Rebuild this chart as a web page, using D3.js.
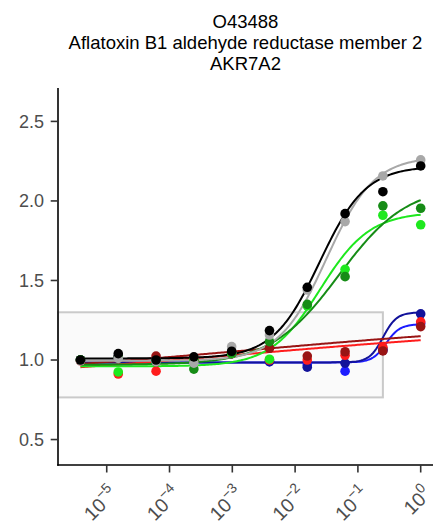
<!DOCTYPE html>
<html><head><meta charset="utf-8">
<script src="https://cdn.jsdelivr.net/npm/d3@7"></script>
<style>body{margin:0;background:#fff}svg{display:block}text{font-family:"Liberation Sans",Arial,sans-serif}</style>
</head><body>
<script>
const titleLines = ["O43488", "Aflatoxin B1 aldehyde reductase member 2", "AKR7A2"];
const concentrations = [3.814697265625e-6, 1.52587890625e-5, 6.103515625e-5, 0.000244140625, 0.0009765625, 0.00390625, 0.015625, 0.0625, 0.25, 1];
const seriesNames = ["blue", "darkblue", "red", "darkred", "lime", "darkgreen", "gray", "black"];
const seriesColors = ["#1c1cff", "#12129a", "#ff1c1c", "#991414", "#1ee81e", "#168c16", "#a8a8a8", "#000000"];
const blueValues     = [1.0, 1.02, 0.99, 1.0, 1.04, 0.99, 0.97, 0.93, 1.06, 1.23];
const darkblueValues = [1.0, 1.02, 1.0, 1.0, 1.04, 0.99, 0.955, 0.98, 1.07, 1.29];
const redValues      = [0.995, 0.912, 0.93, 1.0, 1.04, 1.00, 1.00, 1.03, 1.08, 1.24];
const darkredValues  = [1.0, 1.02, 1.025, 1.0, 1.04, 1.074, 1.025, 1.052, 1.057, 1.21];
const limeValues     = [1.0, 0.925, 0.995, 1.0, 1.04, 1.005, 1.34, 1.57, 1.91, 1.85];
const darkgreenValues= [1.0, 1.02, 0.99, 0.943, 1.045, 1.115, 1.35, 1.524, 1.969, 1.954];
const grayValues     = [0.995, 1.01, 0.99, 0.98, 1.084, 1.157, 1.44, 1.87, 2.157, 2.258];
const blackValues    = [1.0, 1.04, 1.0, 1.02, 1.055, 1.185, 1.457, 1.92, 2.058, 2.22];
// fitted log-logistic curve parameters: bottom, top, log10 EC50, hill
const fitBottom = [0.985, 0.985, 0.84, 0.863, 0.96, 0.97, 0.995, 1.01];
const fitTop    = [1.225, 1.30, 1.24, 1.263, 1.93, 2.10, 2.28, 2.22];
const fitLogEC50= [-0.55, -0.6, -2.7, -2.7, -1.6, -1.3, -1.5, -1.61];
const fitHill   = [4, 4, 0.145, 0.15, 1.1, 0.8, 1.15, 1.18];
const yTicks = [0.5, 1.0, 1.5, 2.0, 2.5];
const xTickExponents = [-5, -4, -3, -2, -1, 0];
const yDomain = [0.34, 2.71];
const xDomainLog = [-5.776, 0.196];
const boxY = [0.765, 1.30];
const boxXMax = 0.25;

const valuesBySeries = [blueValues, darkblueValues, redValues, darkredValues, limeValues, darkgreenValues, grayValues, blackValues];

const W = 433, H = 526;
const svg = d3.select("body").append("svg").attr("width", W).attr("height", H);
const x = d3.scaleLog().domain(xDomainLog.map(e => Math.pow(10, e))).range([58, 433]);
const y = d3.scaleLinear().domain(yDomain).range([465, 88]);

// title
svg.append("g").selectAll("text").data(titleLines).join("text")
  .attr("x", 245.5).attr("y", (d, i) => 28 + i * 21)
  .attr("text-anchor", "middle").attr("font-size", 18.5).attr("fill", "#000").text(d => d);

// box
svg.append("rect")
  .attr("x", 58).attr("y", y(boxY[1]))
  .attr("width", x(boxXMax) - 58).attr("height", y(boxY[0]) - y(boxY[1]))
  .attr("fill", "#fafafa").attr("stroke", "#cacaca").attr("stroke-width", 2);

// curves
const ll4 = (i, c) => fitBottom[i] + (fitTop[i] - fitBottom[i]) / (1 + Math.pow(10, (fitLogEC50[i] - Math.log10(c)) * fitHill[i]));
const lx0 = Math.log10(concentrations[0]), lx1 = Math.log10(concentrations[concentrations.length - 1]);
const grid = d3.range(0, 201).map(k => Math.pow(10, lx0 + (lx1 - lx0) * k / 200));
const line = d3.line().x(d => x(d[0])).y(d => y(d[1]));
const curveG = svg.append("g").attr("fill", "none").attr("stroke-width", 2);
seriesNames.forEach((s, i) => {
  curveG.append("path").datum(grid.map(c => [c, ll4(i, c)]))
    .attr("d", line).attr("stroke", seriesColors[i]);
});
// points
const ptG = svg.append("g");
seriesNames.forEach((s, i) => {
  ptG.append("g").selectAll("circle").data(valuesBySeries[i].map((v, k) => [concentrations[k], v])).join("circle")
    .attr("cx", d => x(d[0])).attr("cy", d => y(d[1])).attr("r", 4.8).attr("fill", seriesColors[i]);
});

// axes
const axG = svg.append("g");
axG.append("line").attr("x1", 58).attr("x2", 58).attr("y1", 88).attr("y2", 465.8).attr("stroke", "#000").attr("stroke-width", 1.6);
axG.append("line").attr("x1", 57.2).attr("x2", 433).attr("y1", 465).attr("y2", 465).attr("stroke", "#000").attr("stroke-width", 1.6);
yTicks.forEach(t => {
  axG.append("line").attr("x1", 50.7).attr("x2", 58).attr("y1", y(t)).attr("y2", y(t)).attr("stroke", "#333").attr("stroke-width", 1.6);
  axG.append("text").attr("x", 44).attr("y", y(t)).attr("dy", "0.36em").attr("text-anchor", "end")
    .attr("font-size", 18).attr("fill", "#4d4d4d").text(t.toFixed(1));
});
xTickExponents.forEach(e => {
  const xp = x(Math.pow(10, e));
  axG.append("line").attr("x1", xp).attr("x2", xp).attr("y1", 465).attr("y2", 472.5).attr("stroke", "#333").attr("stroke-width", 1.6);
  const t = axG.append("text").attr("transform", `translate(${xp + 12},${495}) rotate(-45)`)
    .attr("text-anchor", "end").attr("font-size", 19.5).attr("fill", "#4d4d4d");
  t.append("tspan").text("10");
  t.append("tspan").attr("dy", -9).attr("font-size", 14).text(e === 0 ? "0" : "\u2212" + Math.abs(e));
});
</script>
</body></html>
